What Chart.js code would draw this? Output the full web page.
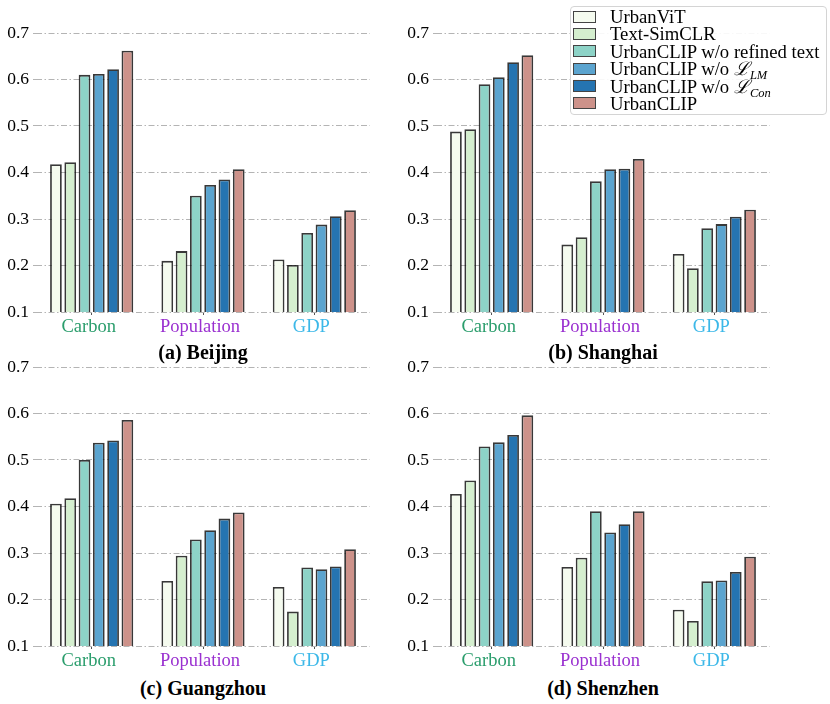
<!DOCTYPE html>
<html>
<head>
<meta charset="utf-8">
<script src="https://cdn.jsdelivr.net/npm/chart.js@4.4.0/dist/chart.umd.min.js"></script>
<style>
    body { margin: 0; background: #fff; }
    #wrap { position: relative; width: 830px; height: 704px; font-family: "Liberation Serif", "DejaVu Serif", serif; }
    canvas { position: absolute; }
    .title { position: absolute; width: 300px; text-align: center; font-weight: bold; font-size: 20px; line-height: 24px; color: #000; }
    #legend { position: absolute; left: 570px; top: 6px; width: 255px; padding: 1px 0 2px 0; background: rgba(255,255,255,0.9); border: 1px solid #d4d4d4; border-radius: 4px; font-size: 18.7px; color: #000; }
    .row { height: 17.4px; line-height: 17.4px; white-space: nowrap; position: relative; }
    .sw { position: absolute; left: 2px; top: 2.5px; width: 21px; height: 10px; border: 1.6px solid #444; }
    .lbl { position: absolute; left: 39px; top: 0; }
    sub { font-size: 12.5px; font-style: italic; vertical-align: -4px; line-height: 0; }
</style>
</head>
<body>
<div id="wrap">
    <canvas id="c-beijing" style="left:0;top:0"></canvas>
    <canvas id="c-shanghai" style="left:400px;top:0"></canvas>
    <canvas id="c-guangzhou" style="left:0;top:334px"></canvas>
    <canvas id="c-shenzhen" style="left:400px;top:334px"></canvas>
    <div class="title" style="left:53px;top:340px">(a) Beijing</div>
    <div class="title" style="left:453px;top:340px">(b) Shanghai</div>
    <div class="title" style="left:53px;top:676px">(c) Guangzhou</div>
    <div class="title" style="left:453px;top:676px">(d) Shenzhen</div>
    <div id="legend"></div>
</div>
<script>
const categories = ['Carbon', 'Population', 'GDP'];
const categoryColors = ['#2a9d6c', '#9a30d0', '#3cb8e8'];
const models = ['UrbanViT', 'Text-SimCLR', 'UrbanCLIP w/o refined text', 'UrbanCLIP w/o LM', 'UrbanCLIP w/o Con', 'UrbanCLIP'];
const legendLabels = [
    'UrbanViT',
    'Text-SimCLR',
    'UrbanCLIP w/o refined text',
    'UrbanCLIP w/o <i>ℒ</i><sub>LM</sub>',
    'UrbanCLIP w/o <i>ℒ</i><sub>Con</sub>',
    'UrbanCLIP'
];
const modelColors = ['#f5fbef', '#d5efcf', '#8dd3c7', '#5ba4cf', '#2574b1', '#cd928a'];

// rows = models, columns = Carbon, Population, GDP
const beijing = [
    [0.418, 0.210, 0.213],
    [0.422, 0.231, 0.201],
    [0.610, 0.350, 0.270],
    [0.612, 0.373, 0.288],
    [0.622, 0.385, 0.306],
    [0.662, 0.407, 0.319]
];
const shanghai = [
    [0.488, 0.245, 0.225],
    [0.493, 0.261, 0.194],
    [0.590, 0.381, 0.280],
    [0.605, 0.407, 0.289],
    [0.637, 0.408, 0.305],
    [0.652, 0.429, 0.320]
];
const guangzhou = [
    [0.406, 0.240, 0.227],
    [0.418, 0.294, 0.174],
    [0.500, 0.329, 0.269],
    [0.537, 0.349, 0.265],
    [0.542, 0.374, 0.271],
    [0.586, 0.387, 0.308]
];
const shenzhen = [
    [0.427, 0.270, 0.178],
    [0.456, 0.290, 0.154],
    [0.529, 0.390, 0.239],
    [0.538, 0.344, 0.241],
    [0.554, 0.362, 0.259],
    [0.596, 0.390, 0.292]
];
const yTicks = [0.1, 0.2, 0.3, 0.4, 0.5, 0.6, 0.7];

function makeChart(id, values) {
    const canvas = document.getElementById(id);
    canvas.width = 400;
    canvas.height = 342;
    canvas.style.width = '400px';
    canvas.style.height = '342px';

    return new Chart(canvas.getContext('2d'), {
        type: 'bar',
        data: {
            labels: categories,
            datasets: models.map((name, i) => ({
                label: name,
                data: values[i],
                backgroundColor: modelColors[i],
                borderColor: 'rgba(0, 0, 0, 0.78)',
                borderWidth: 1.8,
                borderSkipped: false,
                categoryPercentage: 0.77,
                barPercentage: 0.82,
            }))
        },
        options: {
            responsive: false,
            animation: false,
            layout: { padding: { top: 33, right: 30, left: 0, bottom: 0 } },
            plugins: {
                legend: { display: false },
                tooltip: { enabled: false }
            },
            scales: {
                x: {
                    offset: true,
                    border: { display: false },
                    grid: {
                        offset: false,
                        drawOnChartArea: false,
                        drawTicks: true,
                        tickLength: 3,
                        color: '#555'
                    },
                    ticks: {
                        padding: 1,
                        labelOffset: -3,
                        maxRotation: 0,
                        font: { family: 'Liberation Serif', size: 18.5 },
                        color: ctx => categoryColors[ctx.index]
                    },
                    afterFit: scale => { scale.height = 30; }
                },
                y: {
                    min: 0.1,
                    max: 0.7,
                    z: 1,
                    afterBuildTicks: scale => {
                        scale.ticks = yTicks.map(v => ({ value: v }));
                    },
                    grid: {
                        color: '#b4b4b4',
                        lineWidth: 1,
                        tickLength: 3,
                        drawTicks: true
                    },
                    // border.dash sets the dash of the grid lines in v4
                    border: { display: false, dash: [6, 2.5, 1.5, 2.5] },
                    ticks: {
                        padding: 4,
                        color: '#000',
                        font: { family: 'Liberation Serif', size: 17.5 },
                        callback: value => value.toFixed(1)
                    },
                    afterFit: scale => { scale.width = 36; }
                }
            }
        }
    });
}

makeChart('c-beijing', beijing);
makeChart('c-shanghai', shanghai);
makeChart('c-guangzhou', guangzhou);
makeChart('c-shenzhen', shenzhen);

const legend = document.getElementById('legend');
legendLabels.forEach((text, i) => {
    const row = document.createElement('div');
    row.className = 'row';
    row.innerHTML = `<span class="sw" style="background:${modelColors[i]}"></span><span class="lbl">${text}</span>`;
    legend.appendChild(row);
});
</script>
</body>
</html>
